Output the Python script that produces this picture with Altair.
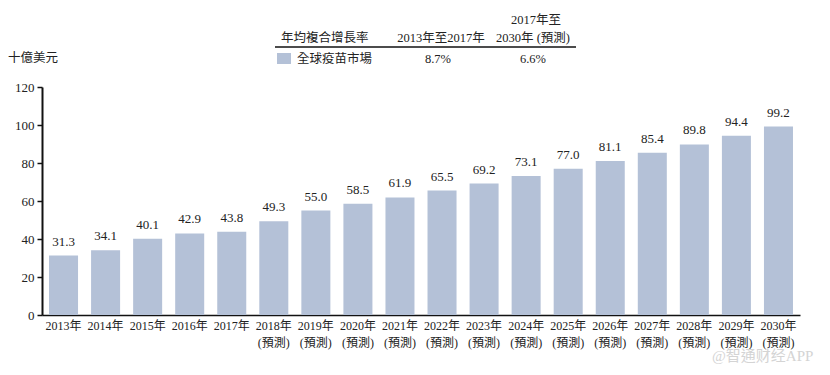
import altair as alt
import pandas as pd

years = ["2013年", "2014年", "2015年", "2016年", "2017年", "2018年", "2019年", "2020年",
         "2021年", "2022年", "2023年", "2024年", "2025年", "2026年", "2027年", "2028年",
         "2029年", "2030年"]
forecast = [False] * 5 + [True] * 13
values = [31.3, 34.1, 40.1, 42.9, 43.8, 49.3, 55.0, 58.5, 61.9, 65.5, 69.2, 73.1,
          77.0, 81.1, 85.4, 89.8, 94.4, 99.2]
y_ticks = [0, 20, 40, 60, 80, 100, 120]
legend_name = "全球疫苗市場"
cagr_header = "年均複合增長率"
period1 = "2013年至2017年"
period2_line1 = "2017年至"
period2_line2 = "2030年 (預測)"
cagr1 = "8.7%"
cagr2 = "6.6%"
unit = "十億美元"
watermark = "@智通财经APP"

labels = [y + ("\n(預測)" if f else "") for y, f in zip(years, forecast)]
df = pd.DataFrame({"label": labels, "value": values,
                   "text": [f"{v:.1f}" for v in values]})

FONT = "Liberation Serif, Noto Sans CJK TC"
BAR = "#b4c1d7"
TXT = "#222222"

W, H = 758, 228

base = alt.Chart(df)
x = alt.X("label:N", sort=labels,
          scale=alt.Scale(paddingInner=0.31, paddingOuter=0.167),
          axis=alt.Axis(title=None, labelAngle=0, ticks=False, domainColor="#111",
                        domainWidth=1.5, labelExpr="split(datum.label, '\\n')",
                        labelFont=FONT, labelFontSize=12, labelColor=TXT,
                        labelPadding=5, labelLineHeight=17, labelOverlap=False,
                        labelBound=False))
y = alt.Y("value:Q", scale=alt.Scale(domain=[0, 120], nice=False),
          axis=alt.Axis(title=None, values=y_ticks, grid=False, domainColor="#111",
                        domainWidth=2, tickColor="#111", tickSize=5, tickWidth=1.5,
                        labelFont=FONT, labelFontSize=13, labelColor=TXT,
                        labelPadding=3, labelOverlap=False, labelBound=False,
                        labelFlush=False))

bars = base.mark_bar(color=BAR).encode(x=x, y=y)
vals = base.mark_text(font=FONT, fontSize=13, color=TXT, baseline="bottom", dy=-7).encode(
    x=x, y=y, text="text:N")

one = pd.DataFrame({"a": [0]})


def note(text, px, py, align="center", size=12.5, color=TXT):
    return alt.Chart(one).mark_text(text=text, font=FONT, fontSize=size, color=color,
                                    align=align, baseline="middle").encode(
        x=alt.value(px - 42), y=alt.value(py - 87))


annotations = [
    note(unit, 8, 58, align="left"),
    note(cagr_header, 281, 38, align="left"),
    note(period1, 441, 38),
    note(period2_line1, 536, 20),
    note(period2_line2, 533, 38),
    note(legend_name, 297, 59, align="left"),
    note(cagr1, 438, 59),
    note(cagr2, 533, 59),
    note(watermark, 712, 356, align="left", size=15, color="#d4d4d4"),
]

rule = alt.Chart(one).mark_rule(color="#111", strokeWidth=1.5).encode(
    x=alt.value(275 - 42), x2=alt.value(576 - 42), y=alt.value(47 - 87))
swatch = alt.Chart(one).mark_rect(color=BAR).encode(
    x=alt.value(277 - 42), x2=alt.value(291 - 42),
    y=alt.value(53 - 87), y2=alt.value(64 - 87))

chart = alt.layer(bars, vals, rule, swatch, *annotations).properties(
    width=W, height=H,
    background="white",
    autosize=alt.AutoSizeParams(type="none"),
    padding={"left": 34, "top": 79, "right": 22, "bottom": 52},
).configure_view(strokeWidth=0, stroke=None).configure_axis(grid=False)

chart.save("out.html", embed_options={"renderer": "svg", "actions": False})
